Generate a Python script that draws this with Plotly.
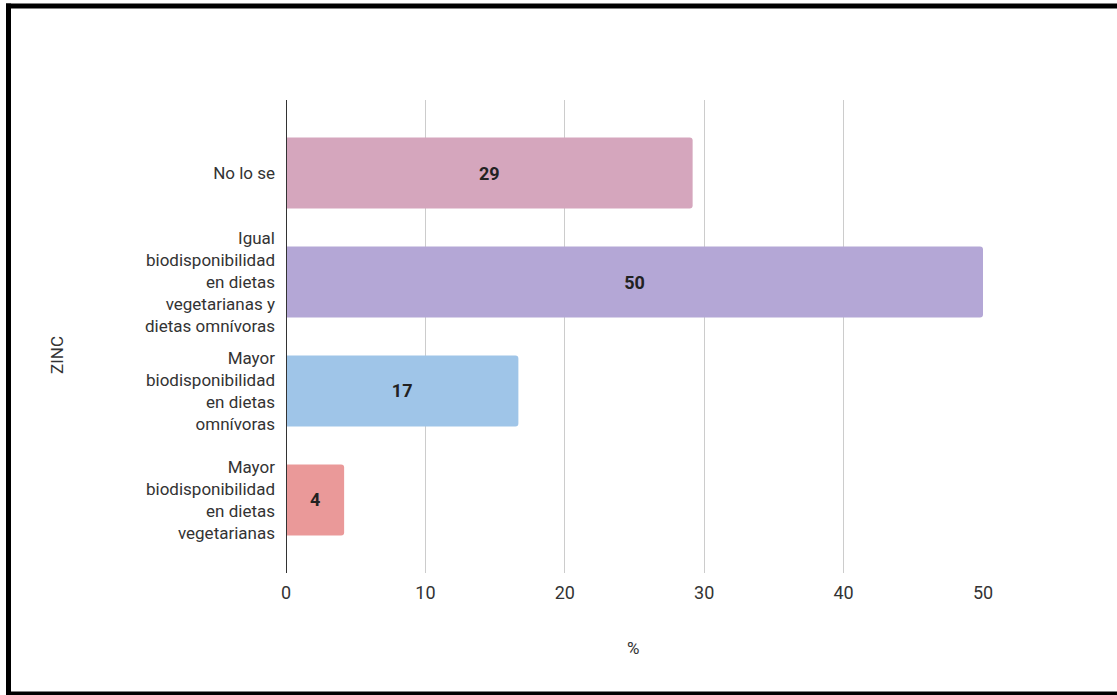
import plotly.graph_objects as go

# datos (porcentaje de respuestas, n = 24)
respuestas = ['No lo se',
              'Igual<br>biodisponibilidad<br>en dietas<br>vegetarianas y<br>dietas omnívoras',
              'Mayor<br>biodisponibilidad<br>en dietas<br>omnívoras',
              'Mayor<br>biodisponibilidad<br>en dietas<br>vegetarianas']
porcentajes = [29.17, 50.0, 16.67, 4.17]
etiquetas = ['29', '50', '17', '4']
colores = ['#d5a6bd', '#b4a7d6', '#9fc5e8', '#ea9999']
x_ticks = [0, 10, 20, 30, 40, 50]

W, H = 1117, 695
L, R, T, B = 286, 983, 100, 573
TEXTO = '#333333'


def px_x(p):
    return (p - L) / (R - L)


def px_y(p):
    return (B - p) / (B - T)


fig = go.Figure(go.Bar(
    y=respuestas, x=porcentajes, orientation='h',
    marker=dict(color=colores, line=dict(width=0), cornerradius=3),
    text=etiquetas, textposition='inside', insidetextanchor='middle',
    textangle=0, width=0.65,
    textfont=dict(family='Roboto', size=18, color='#222222', weight='bold'),
    hoverinfo='x+y'))

# marco negro de la captura (sin lado derecho)
marco = dict(color='black', width=5)
bordes = [
    dict(x0=px_x(8.5), x1=px_x(8.5), y0=px_y(697), y1=px_y(3.5)),
    dict(x0=px_x(6), x1=px_x(1117), y0=px_y(6), y1=px_y(6)),
    dict(x0=px_x(6), x1=px_x(1117), y0=px_y(694), y1=px_y(694)),
]

fig.update_layout(
    width=W, height=H,
    margin=dict(l=L, r=W - R, t=T, b=H - B, autoexpand=False),
    paper_bgcolor='white', plot_bgcolor='white',
    font=dict(family='Roboto', size=18, color=TEXTO),
    showlegend=False,
    xaxis=dict(range=[0, 50], tickvals=x_ticks, showgrid=True, gridcolor='#cccccc',
               gridwidth=1, zeroline=False, showline=False, ticks='',
               ticklabelstandoff=7, automargin=False),
    yaxis=dict(categoryorder='array', categoryarray=respuestas,
               range=[3.67, -0.67], showgrid=False, zeroline=False, showline=False,
               ticks='', ticklabelstandoff=10, tickfont=dict(size=17),
               automargin=False),
    shapes=[dict(type='line', xref='x', yref='paper', x0=0, x1=0, y0=0, y1=1,
                 line=dict(color='#333333', width=2))]
           + [dict(type='line', xref='paper', yref='paper', line=marco, **b) for b in bordes],
    annotations=[
        dict(text='%', xref='paper', yref='paper', x=px_x(633), y=px_y(648),
             xanchor='center', yanchor='middle',
             showarrow=False, font=dict(size=17, color=TEXTO)),
        dict(text='ZINC', xref='paper', yref='paper', x=px_x(57), y=px_y(355),
             xanchor='center', yanchor='middle',
             showarrow=False, textangle=-90, font=dict(size=17, color=TEXTO)),
    ],
)

fig.write_html('out.html', config={'displayModeBar': False},
               post_script="document.body.style.margin='0';"
                           "document.body.style.overflow='hidden';"
                           "document.documentElement.style.overflow='hidden';")
